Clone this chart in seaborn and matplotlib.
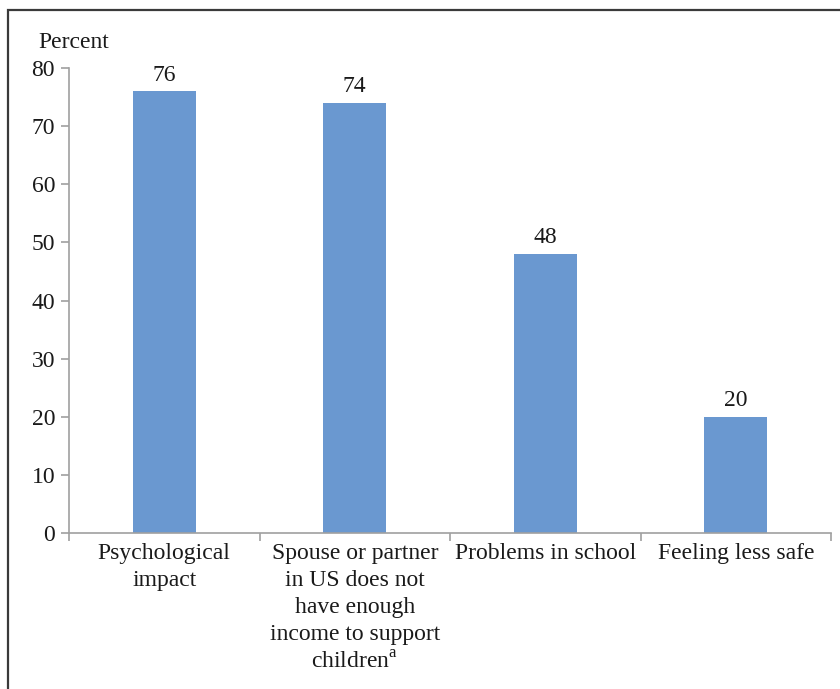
import matplotlib
matplotlib.use("Agg")
import matplotlib.pyplot as plt
import seaborn as sns
import pandas as pd
from matplotlib.patches import Rectangle

categories = [
    "Psychological\nimpact",
    "Spouse or partner\nin US does not\nhave enough\nincome to support\nchildren$^{\\mathrm{a}}$",
    "Problems in school",
    "Feeling less safe",
]
values = [76, 74, 48, 20]
yticks = [0, 10, 20, 30, 40, 50, 60, 70, 80]

sns.set_style("white")
plt.rcParams["font.family"] = ["Liberation Serif", "DejaVu Serif"]
plt.rcParams["mathtext.fontset"] = "custom"
plt.rcParams["mathtext.rm"] = "Liberation Serif"

df = pd.DataFrame({"cat": categories, "val": values})

fig = plt.figure(figsize=(8.4, 6.89), dpi=100)
ax = fig.add_axes([69 / 840, 1 - 533 / 689, (831 - 69) / 840, (533 - 68) / 689])

sns.barplot(data=df, x="cat", y="val", color="#6a98d0", saturation=1,
            width=0.33, ax=ax)
for bar in ax.patches:
    bar.set_edgecolor("none")

txt = "#1a1a1a"
ax.bar_label(ax.containers[0], fmt="%d", padding=4, fontsize=17, color=txt)

ax.set_ylim(0, 80)
ax.set_xlim(-0.5, 3.5)
ax.set_yticks(yticks)
ax.set_yticklabels([str(v) for v in yticks], fontsize=17, color=txt)
ax.set_xticks(range(len(categories)))
ax.set_xticklabels(categories, fontsize=17, color=txt, linespacing=1.38,
                   va="top")
ax.set_xticks([i - 0.5 for i in range(len(categories) + 1)], minor=True)
ax.tick_params(axis="x", which="major", bottom=True, length=0, pad=7)
ax.tick_params(axis="x", which="minor", bottom=True, length=6,
               color="#a0a0a0", width=1.2)
ax.tick_params(axis="y", left=True, length=6, color="#a0a0a0", width=1.2, pad=4)
ax.set_xlabel("")
ax.set_ylabel("")

for side in ["top", "right"]:
    ax.spines[side].set_visible(False)
for side in ["left", "bottom"]:
    ax.spines[side].set_color("#a0a0a0")
    ax.spines[side].set_linewidth(1.2)

fig.text(38 / 840, 1 - 42 / 689, "Percent", fontsize=17, color=txt,
         va="center", ha="left")

# outer frame, cut off at right and bottom like the source
fig.patches.append(Rectangle((8 / 840, -0.05), 1.1, 1.05 - 10 / 689,
                             transform=fig.transFigure, fill=False,
                             edgecolor="#3a3a3a", linewidth=1.6))

fig.savefig("out.png", dpi=100)
